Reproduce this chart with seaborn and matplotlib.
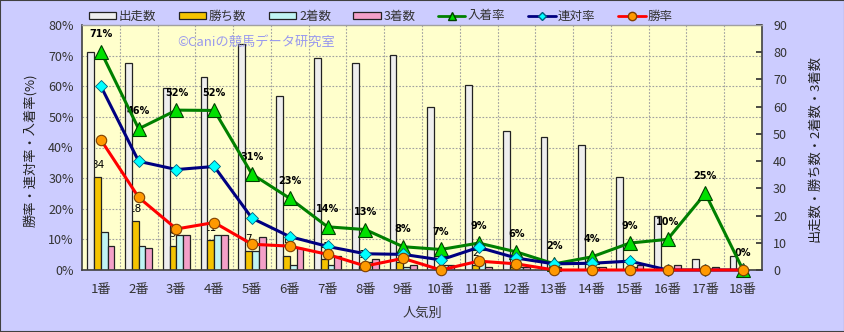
import matplotlib
matplotlib.use("Agg")
import matplotlib.pyplot as plt
import seaborn as sns
import pandas as pd
import numpy as np
from matplotlib.patches import Patch, Rectangle
from matplotlib.lines import Line2D
from matplotlib.ticker import FixedLocator

# ---- data ----
categories = [f"{i}番" for i in range(1, 19)]
starters = [80, 76, 67, 71, 83, 64, 78, 76, 79, 60, 68, 51, 49, 46, 34, 20, 4, 5]
wins     = [34, 18, 9, 11, 7, 5, 4, 1, 3, 0, 2, 1, 0, 0, 0, 0, 0, 0]
seconds  = [14, 9, 13, 13, 7, 2, 2, 3, 1, 2, 3, 1, 1, 1, 1, 0, 0, 0]
thirds   = [9, 8, 13, 13, 12, 8, 5, 4, 2, 2, 1, 1, 0, 1, 2, 2, 1, 0]
place_rate    = [71.3, 46.1, 52.2, 52.1, 31.3, 23.4, 14.1, 13.2, 7.6, 6.7, 8.8, 5.9, 2.0, 4.3, 8.8, 10.0, 25.0, 0.0]
quinella_rate = [60.0, 35.5, 32.8, 33.8, 16.9, 10.9, 7.7, 5.3, 5.1, 3.3, 7.4, 3.9, 2.0, 2.2, 2.9, 0.0, 0.0, 0.0]
win_rate      = [42.5, 23.7, 13.4, 15.5, 8.4, 7.8, 5.1, 1.3, 3.8, 0.0, 2.9, 2.0, 0.0, 0.0, 0.0, 0.0, 0.0, 0.0]

bar_series = ["出走数", "勝ち数", "2着数", "3着数"]
bar_colors = ["#EEEEEE", "#F5C400", "#C0F4F4", "#F4A0C8"]
line_series = ["入着率", "連対率", "勝率"]

sns.set_theme(style="white")
plt.rcParams["font.family"] = ["Noto Sans CJK JP", "DejaVu Sans"]

W, H = 845, 332
fig = plt.figure(figsize=(W / 100, H / 100), dpi=100, facecolor="#CCCCFF")
fig.patches.append(Rectangle((0, 0), 1, 1, transform=fig.transFigure, fill=False,
                             edgecolor="#404040", linewidth=1.5, zorder=10))

ax = fig.add_axes([82 / W, 62 / H, 680 / W, 245 / H])
ax.set_facecolor("#FFFFCC")
ax2 = ax.twinx()

df = pd.DataFrame({
    "cat": categories * 4,
    "series": sum([[s] * 18 for s in bar_series], []),
    "value": starters + wins + seconds + thirds,
})
sns.barplot(data=df, x="cat", y="value", hue="series", order=categories,
            hue_order=bar_series, palette=bar_colors, width=0.72, saturation=1,
            edgecolor="#222222", linewidth=0.9, ax=ax, legend=False)

ax.set_xlim(-0.5, 17.5)
ax.set_ylim(0, 90)
ax.yaxis.tick_right()
ax.set_yticks(range(0, 91, 10))
ax.yaxis.set_minor_locator(FixedLocator([11.25 * k for k in range(1, 8)]))
ax.xaxis.set_minor_locator(FixedLocator([k + 0.5 for k in range(17)]))
ax.set_axisbelow(True)
ax.grid(which="minor", axis="both", color="#A0A0A0", linestyle=(0, (1.5, 1.5)), linewidth=0.8)
ax.grid(which="major", visible=False)
ax.tick_params(axis="y", which="major", direction="in", length=4, right=True, left=False,
               labelright=True, labelleft=False, labelsize=9, colors="#333333", pad=8)
ax.tick_params(axis="y", which="minor", length=0)
ax.tick_params(axis="x", which="both", length=0, labelsize=9.5, colors="#333333", pad=9)
ax.set_xlabel("")
ax.set_ylabel("")
for s in ["left", "right", "bottom"]:
    ax.spines[s].set_color("#404040")
    ax.spines[s].set_linewidth(1.2)
ax.spines["top"].set_color("#A0A0A0")
ax.spines["top"].set_linewidth(1.0)

ax2.set_ylim(0, 80)
ax2.yaxis.tick_left()
ax2.set_yticks(range(0, 81, 10))
ax2.set_yticklabels([f"{v}%" for v in range(0, 81, 10)])
ax2.tick_params(axis="y", length=0, left=False, right=False, labelleft=True,
                labelright=False, labelsize=9, colors="#333333", pad=6)
for s in ax2.spines.values():
    s.set_visible(False)

xs = np.arange(len(categories))
sns.lineplot(x=xs, y=place_rate, ax=ax2, color="#008000", linewidth=2.2, marker="^",
             markersize=10, markerfacecolor="#00E000", markeredgecolor="#004000",
             markeredgewidth=0.8, clip_on=False, zorder=3)
sns.lineplot(x=xs, y=quinella_rate, ax=ax2, color="#000080", linewidth=2.2, marker="D",
             markersize=6, markerfacecolor="#00FFFF", markeredgecolor="#006080",
             markeredgewidth=0.6, clip_on=False, zorder=4)
sns.lineplot(x=xs, y=win_rate, ax=ax2, color="#FF0000", linewidth=2.2, marker="o",
             markersize=7.5, markerfacecolor="#FF9900", markeredgecolor="#7F4000",
             markeredgewidth=0.8, clip_on=False, zorder=5)
ax2.set_xlim(-0.5, 17.5)

# labels
for i, v in enumerate(place_rate):
    ax2.annotate(f"{round(v)}%", (i, v), xytext=(0, 9),
                 textcoords="offset points", ha="center", va="bottom", fontsize=7,
                 fontweight="bold", color="#000000", zorder=2,
                 family=["DejaVu Sans"])
for i, v in enumerate(wins):
    if v > 0:
        ax.annotate(f"{v}", (i - 0.09, v), xycoords="data", xytext=(0, 5),
                    textcoords="offset points", ha="center", va="bottom", fontsize=7.5,
                    color="#000000", zorder=0.8, family=["DejaVu Sans"])

fig.text(422 / W, 1 - 313 / H, "人気別", ha="center", va="center", fontsize=9.5, color="#333333")
fig.text(30 / W, 1 - 150 / H, "勝率・連対率・入着率(%)", rotation=90, ha="center", va="center",
         fontsize=9.5, color="#222222")
fig.text(815 / W, 1 - 148 / H, "出走数・勝ち数・2着数・3着数", rotation=90, ha="center",
         va="center", fontsize=9.5, color="#222222")
fig.text(177 / W, 1 - 42 / H, "©Caniの競馬データ研究室", ha="left", va="center",
         fontsize=9.5, color="#9999EE")

handles = [Patch(facecolor=c, edgecolor="#222222", linewidth=0.9) for c in bar_colors]
handles += [
    Line2D([], [], color="#008000", lw=2, marker="^", markersize=6,
           markerfacecolor="#00E000", markeredgecolor="#004000"),
    Line2D([], [], color="#000080", lw=2, marker="D", markersize=4.5,
           markerfacecolor="#00FFFF", markeredgecolor="#006080"),
    Line2D([], [], color="#FF0000", lw=2, marker="o", markersize=6,
           markerfacecolor="#FF9900", markeredgecolor="#7F4000"),
]
leg = fig.legend(handles, bar_series + line_series, loc="center", ncol=7,
                 bbox_to_anchor=(381 / W, 1 - 16 / H), frameon=False, fontsize=9,
                 handlelength=2.2, handleheight=0.5, handletextpad=0.2,
                 columnspacing=1.8, labelcolor="#333333")

fig.savefig("out.png", dpi=100, facecolor=fig.get_facecolor())
